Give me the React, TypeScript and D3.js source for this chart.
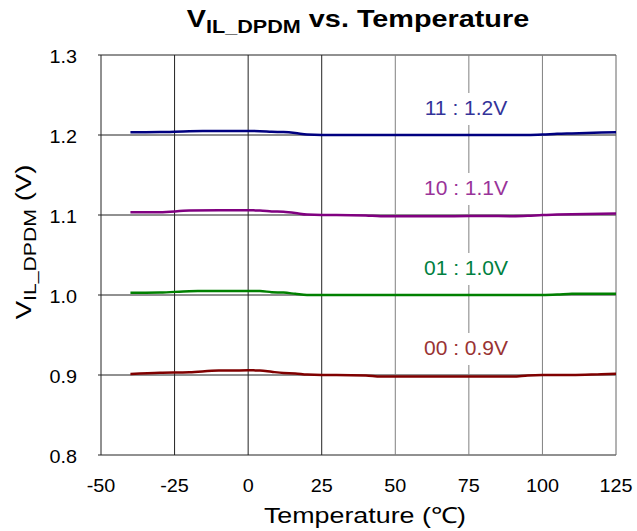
import React from "react";
import * as d3 from "d3";

const temps = [-40, -30, -20, -10, 0, 4, 8, 12, 16, 20, 25, 30, 40, 45, 50, 60, 70, 80, 90, 95, 100, 105, 110, 120, 125];

const v11 = [1.2035, 1.2036, 1.2048, 1.2049, 1.2049, 1.2048, 1.204, 1.2037, 1.2025, 1.2005, 1.2, 1.2, 1.2, 1.2, 1.2, 1.2, 1.2, 1.2, 1.2, 1.2, 1.2005, 1.2015, 1.202, 1.203, 1.2035];
const v10 = [1.1033, 1.1035, 1.1055, 1.1058, 1.1058, 1.1057, 1.1045, 1.104, 1.1025, 1.1005, 1.1, 1.1, 1.0995, 1.0985, 1.0985, 1.0985, 1.0985, 1.0988, 1.0985, 1.099, 1.1, 1.1005, 1.101, 1.1015, 1.102];
const v01 = [1.0029, 1.003, 1.0048, 1.005, 1.005, 1.005, 1.0035, 1.003, 1.0015, 1.0, 1.0, 1.0, 1.0, 1.0, 1.0, 1.0, 1.0, 1.0, 1.0, 1.0, 1.0, 1.0005, 1.0015, 1.0017, 1.0017];
const v00 = [0.9013, 0.9028, 0.9035, 0.9055, 0.9058, 0.9057, 0.904, 0.9025, 0.902, 0.9005, 0.9, 0.9, 0.8995, 0.898, 0.898, 0.898, 0.898, 0.898, 0.898, 0.8995, 0.9, 0.9, 0.9, 0.901, 0.9015];

const seriesNames = ["11 : 1.2V", "10 : 1.1V", "01 : 1.0V", "00 : 0.9V"];
const seriesNominal = [1.2, 1.1, 1.0, 0.9];
const seriesValues = [v11, v10, v01, v00];
const lineColors = ["#000080", "#800080", "#008000", "#800000"];
const labelColors = ["#333399", "#993399", "#008040", "#993333"];

const xTicks = [-50, -25, 0, 25, 50, 75, 100, 125];
const yTicks = [0.8, 0.9, 1.0, 1.1, 1.2, 1.3];

const FONT = "'Liberation Sans', Arial, sans-serif";

function T(props: any) {
  const { x, y, sx = 1, anchor = "middle", size = 17, weight = "normal", fill = "#000", children } = props;
  return (
    <text
      transform={`translate(${x},${y}) scale(${sx},1)`}
      textAnchor={anchor}
      fontSize={size}
      fontWeight={weight}
      fill={fill}
      fontFamily={FONT}
    >
      {children}
    </text>
  );
}

export default function App() {
  const W = 637, H = 531;
  const x = d3.scaleLinear().domain([-50, 125]).range([101, 616]);
  const y = d3.scaleLinear().domain([0.8, 1.3]).range([455, 55]);
  const line = d3
    .line<number>()
    .x((_, i) => x(temps[i]))
    .y((d) => y(d))
    .curve(d3.curveMonotoneX);

  return (
    <svg width={W} height={H} style={{ position: "absolute", left: 0, top: 0, background: "#fff" }}>
      <rect x={0} y={0} width={W} height={H} fill="#fff" />
      {/* grid */}
      {yTicks.map((t) => (
        <line key={"hy" + t} x1={x(-50) - 3} x2={x(125)} y1={y(t)} y2={y(t)} stroke="#222" strokeWidth={1} />
      ))}
      {xTicks.slice(1, -1).map((t) => (
        <line key={"vx" + t} x1={x(t)} x2={x(t)} y1={y(1.3)} y2={y(0.8)} stroke={t > 25 ? "#808080" : "#222"} strokeWidth={1} />
      ))}
      <line x1={x(-50)} x2={x(-50)} y1={y(1.3)} y2={y(0.8)} stroke="#222" strokeWidth={1} />
      <line x1={x(125)} x2={x(125)} y1={y(1.3)} y2={y(0.8)} stroke="#666" strokeWidth={1} />

      {/* labels with white background */}
      {seriesNames.map((n, i) => {
        const by = y(seriesNominal[i]) - 20;
        return (
          <g key={"lab" + i}>
            <rect x={418} y={by - 22} width={96} height={32} fill="#fff" />
            <T x={466} y={by} size={21} fill={labelColors[i]}>{n}</T>
          </g>
        );
      })}

      {/* lines */}
      {seriesValues.map((vals, i) => (
        <path key={"ln" + i} d={line(vals) || ""} fill="none" stroke={lineColors[i]} strokeWidth={2.5} strokeLinejoin="round" />
      ))}

      {/* y tick labels */}
      {yTicks.map((t) => (
        <T key={"yl" + t} x={77} y={y(t) + 8} anchor="end" size={18} sx={1.1}>{t.toFixed(1)}</T>
      ))}
      {/* x tick labels */}
      {xTicks.map((t) => (
        <T key={"xl" + t} x={x(t)} y={492} size={18} sx={1.1}>{String(t)}</T>
      ))}

      {/* axis titles */}
      <T x={365} y={523} size={22} sx={1.22}>Temperature (℃)</T>
      <text transform={`translate(31,242) rotate(-90) scale(1.25,1)`} textAnchor="middle" fontFamily={FONT} fontSize={22} fill="#000">
        V<tspan fontSize={17} dy={5}>IL_DPDM</tspan>
        <tspan dy={-5}> (V)</tspan>
      </text>

      {/* title */}
      <text transform={`translate(358,27) scale(1.2,1)`} textAnchor="middle" fontFamily={FONT} fontSize={24} fontWeight="bold" fill="#000">
        V<tspan fontSize={18} dy={6}>IL_DPDM</tspan>
        <tspan dy={-6}> vs. Temperature</tspan>
      </text>
    </svg>
  );
}
